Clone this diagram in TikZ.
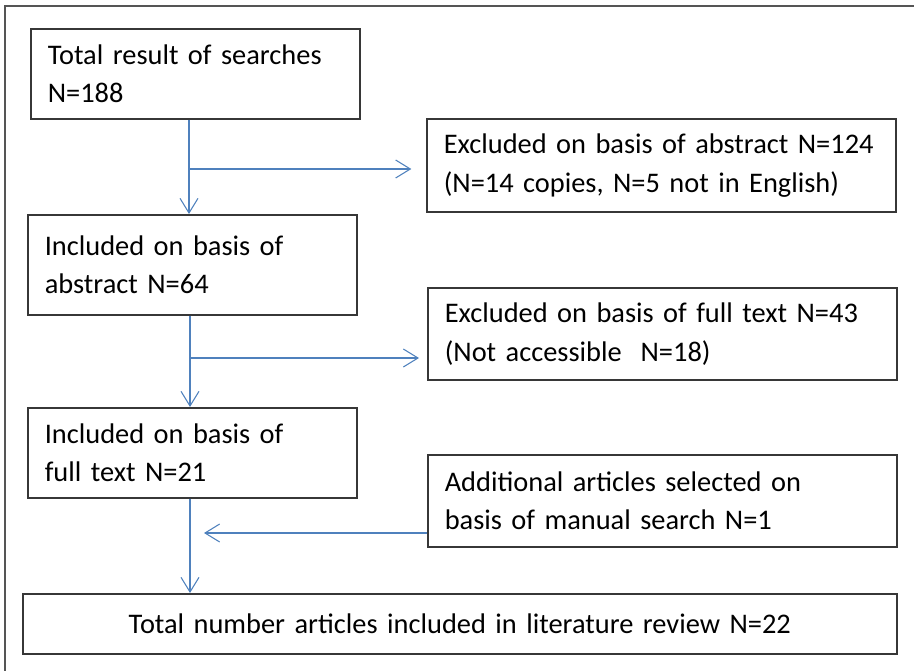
\documentclass[tikz,border=0pt]{standalone}
\usepackage{fontspec}
\setmainfont{Carlito}
\usetikzlibrary{arrows.meta,calc}

\definecolor{flowblue}{RGB}{79,129,189}
\definecolor{framegray}{RGB}{85,85,85}
\definecolor{boxgray}{RGB}{55,55,55}

\newcommand\boxfont{\fontsize{21.3pt}{29pt}\selectfont}

\tikzset{
  x=0.75pt, y=-0.75pt,
  stagebox/.style={draw=boxgray, line width=1.2pt, anchor=north west,
    font=\boxfont, align=left, inner xsep=12.75pt, inner ysep=0pt},
  narrowbox/.style={stagebox, minimum width=246.75pt, text width=221.25pt},
  widebox/.style={stagebox, minimum width=351.75pt, text width=326.25pt},
  flow/.style={draw=flowblue, line width=0.8pt,
    -{Straight Barb[length=11pt,width=13.5pt,line width=0.8pt]}},
  flowline/.style={draw=flowblue, line width=0.8pt}
}

\begin{document}
\begin{tikzpicture}
\useasboundingbox (0,0) rectangle (914,671);

% outer frame
\draw[framegray, line width=1.3pt] (5,6) rectangle (918,676);

% stage boxes
\node[narrowbox, minimum height=67.5pt] (total) at (30,28)
  {Total result of searches\\N=188};
\node[widebox, minimum height=69.75pt] (exclA) at (426,118)
  {Excluded on basis of abstract N=124\\(N=14 copies, N=5 not in English)};
\node[narrowbox, minimum height=75pt] (inclA) at (27,214)
  {Included on basis of\\abstract N=64};
\node[widebox, minimum height=69pt] (exclF) at (427,287)
  {Excluded on basis of full text N=43\\(Not accessible\ \ N=18)};
\node[narrowbox, minimum height=67.5pt] (inclF) at (27,407)
  {Included on basis of\\full text N=21};
\node[widebox, minimum height=69pt] (addl) at (427,454)
  {Additional articles selected on\\basis of manual search N=1};
\node[stagebox, align=center, minimum width=655.5pt, minimum height=45pt,
      text width=630pt] (final) at (22,593)
  {Total number articles included in literature review N=22};

% branch points on the main flow
\coordinate (b1) at (189,169);
\coordinate (b2) at (190,358);
\coordinate (b3) at (190,533);

% main flow downwards
\draw[flow] (total.south -| b1) -- (inclA.north -| b1);
\draw[flow] (inclA.south -| b2) -- (inclF.north -| b2);
\draw[flow] (inclF.south -| b3) -- (final.north -| b3);

% side branches
\draw[flow, shorten >=11pt] (b1) -- (exclA.west |- b1);
\draw[flow, shorten >=6pt] (b2) -- (exclF.west |- b2);
\draw[flow, shorten >=10.5pt] (addl.west |- b3) -- (b3);
\end{tikzpicture}
\end{document}
